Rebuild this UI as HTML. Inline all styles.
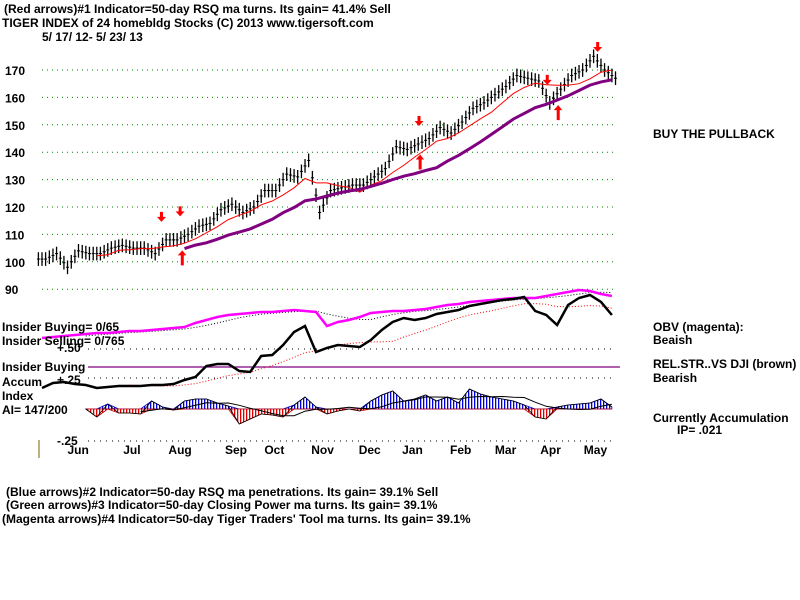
<!DOCTYPE html>
<html><head><meta charset="utf-8"><style>
body{margin:0;background:#fff;}
svg{display:block}
text{font-family:"Liberation Sans",sans-serif;font-weight:bold;font-size:12px;fill:#000}
</style></head><body>
<svg id="c" width="800" height="600" viewBox="0 0 800 600">
<defs><pattern id="hb" width="3" height="4" patternUnits="userSpaceOnUse"><rect width="3" height="4" fill="#fff"/><rect width="1.3" height="4" fill="#0000e0"/></pattern>
<pattern id="hr" width="3" height="4" patternUnits="userSpaceOnUse"><rect width="3" height="4" fill="#fff"/><rect width="1.3" height="4" fill="#e00000"/></pattern></defs>
<text x="4" y="13">(Red arrows)#1 Indicator=50-day RSQ ma turns. Its gain= 41.4% Sell</text>
<text x="2" y="27">TIGER INDEX of  24 homebldg Stocks  (C) 2013  www.tigersoft.com</text>
<text x="42" y="41">5/ 17/ 12- 5/ 23/ 13</text>
<g id="grid"></g><g id="ylab"></g><g id="lower"></g><g id="price"></g><g id="arrows"></g>
<text x="653" y="138">BUY THE PULLBACK</text>
<text x="2" y="331">Insider Buying= 0/65</text>
<text x="2" y="345">Insider Selling= 0/765</text>
<text x="57" y="352">+.50</text>
<text x="2" y="371">Insider Buying</text>
<text x="2" y="386">Accum</text>
<text x="57" y="384">+.25</text>
<text x="2" y="400">Index</text>
<text x="2" y="414">AI= 147/200</text>
<text x="57" y="445">-.25</text>
<line x1="39" y1="440" x2="39" y2="458" stroke="#806000"/>
<text x="653" y="331">OBV (magenta):</text>
<text x="653" y="344">Beaish</text>
<text x="653" y="368">REL.STR..VS DJI (brown)</text>
<text x="653" y="382">Bearish</text>
<text x="653" y="422">Currently Accumulation</text>
<text x="677" y="434">IP=  .021</text>
<text x="6" y="496">(Blue arrows)#2 Indicator=50-day RSQ ma penetrations. Its gain= 39.1% Sell</text>
<text x="6" y="509"> (Green arrows)#3 Indicator=50-day Closing Power ma turns. Its gain= 39.1%</text>
<text x="2" y="523">(Magenta arrows)#4 Indicator=50-day Tiger Traders' Tool ma turns. Its gain= 39.1%</text>
<g id="months"></g>
</svg>
<script>
const closes=[101,103,98,104,103,103,105,106,105,105,103,108,108,110,113,114,119,121,118,120,126,126,132,131,137,118,126,127,128,128,131,134,142,141,143,145,149,147,151,156,158,161,164,168,167,166,158,163,168,170,175,170,167];
const obvY=[338,337,336,335,334,333,333,332,331,331,330,329,328,327,323,320,317,315,314,313,312,312,311,310,311,312,326,322,320,317,313,312,311,311,310,309,307,305,304,302,301,300,299,298,298,298,296,294,292,290,291,294,296];
const relY=[388,383,382,384,385,388,387,386,386,386,385,385,384,380,377,366,364,364,371,372,356,355,345,332,326,352,348,345,346,347,340,330,322,318,320,318,314,312,310,306,304,302,300,299,297,311,315,325,305,298,295,302,315];
const aiVals=[0,-8,5,-4,-4,-5,8,2,-1,8,10,10,6,3,-15,-10,-5,-6,-8,4,12,2,-5,-2,0,-2,8,14,18,8,10,14,8,12,6,20,15,12,10,8,4,-8,-10,2,4,5,6,10,2];
const aiStart=4;
const priceTicks=[170,160,150,140,130,120,110,100,90];
const months=["Jun","Jul","Aug","Sep","Oct","Nov","Dec","Jan","Feb","Mar","Apr","May"];
const monthPos=[3.3,8.2,12.6,17.7,21.2,25.6,29.9,33.8,38.2,42.3,46.4,50.5];
const downArrows=[10.9,12.6,34.4,46.1,50.7];
const upArrows=[12.8,34.5,47.1];
const NS="http://www.w3.org/2000/svg";
const X=i=>42+i*10.96;
const Y=v=>70+(170-v)*2.74;
function el(t,a,p){const e=document.createElementNS(NS,t);for(const k in a)e.setAttribute(k,a[k]);document.getElementById(p).appendChild(e);return e;}
function ma(a,n){return a.map((v,i)=>{if(i<n-1)return null;let s=0;for(let j=i-n+1;j<=i;j++)s+=a[j];return s/n;});}
function path(arr,fx,fy){let d="";arr.forEach((v,i)=>{if(v==null)return;d+=(d?"L":"M")+fx(i).toFixed(1)+","+fy(v).toFixed(1);});return d;}
priceTicks.forEach(t=>{
 let g=el('line',{x1:42,x2:615,y1:Y(t),y2:Y(t),stroke:'#008000','stroke-dasharray':'1 4'},'grid');
 
 
 let tx=el('text',{x:5,y:Y(t)+5},'ylab');tx.textContent=t;
 
 
});
[[349,'#000'],[378,'#000'],[441,'#000']].forEach(([y,c])=>{
 let g=el('line',{x1:88,x2:615,y1:y,y2:y,stroke:c,'stroke-dasharray':'1 5'},'grid');
 
 
});
let ib=el('line',{x1:88,x2:620,y1:367,y2:367,stroke:'#800080','stroke-width':1.2},'grid');


closes.forEach((c,i)=>{
 const prev=i?closes[i-1]:c;
 for(let k=0;k<3;k++){
  const x=X(i)-3.6+k*3.6;const v=prev+(c-prev)*(k+1)/3;
  let b=el('line',{x1:x,x2:x,y1:Y(v+2.5),y2:Y(v-2.5),stroke:'#000','stroke-width':1.3},'price');
  
  
  let t=el('line',{x1:x-1.5,x2:x+1.5,y1:Y(v),y2:Y(v),stroke:'#000'},'price');
  
  
 }
});
const ma5=ma(closes,5),ma12=ma(closes,12);
let r=el('path',{d:path(ma5.map((v,i)=>i<5?null:v),X,Y),stroke:'#ff0000',fill:'none','stroke-width':1},'price');


let p=el('path',{d:path(ma12.map((v,i)=>i<13?null:v),X,Y),stroke:'#800080',fill:'none','stroke-width':3},'price');


const I=v=>v;
let om=el('path',{d:path(ma(obvY,5),X,I),stroke:'#000',fill:'none','stroke-dasharray':'1 2'},'lower');


let rm=el('path',{d:path(ma(relY,8),X,I),stroke:'#ff0000',fill:'none','stroke-dasharray':'1 2'},'lower');


let o=el('path',{d:path(obvY,X,I),stroke:'#ff00ff',fill:'none','stroke-width':2.5},'lower');


let rl=el('path',{d:path(relY,X,I),stroke:'#000',fill:'none','stroke-width':2.5},'lower');


const AX=i=>X(i+aiStart),AY=v=>409-v;
let pos="M"+AX(0)+",409",neg="M"+AX(0)+",409";
aiVals.forEach((v,i)=>{pos+="L"+AX(i)+","+AY(Math.max(v,0));neg+="L"+AX(i)+","+AY(Math.min(v,0));});
pos+="L"+AX(aiVals.length-1)+",409Z";neg+="L"+AX(aiVals.length-1)+",409Z";
let ap=el('path',{d:pos,fill:'url(#hb)',stroke:'#0000c0','stroke-width':0.8},'lower');


let an=el('path',{d:neg,fill:'url(#hr)',stroke:'#c00000','stroke-width':0.8},'lower');


let aline=el('path',{d:path(aiVals,AX,AY),stroke:'#000',fill:'none','stroke-width':0.8},'lower');


let am=el('path',{d:path(ma(aiVals,6),AX,AY),stroke:'#000',fill:'none','stroke-width':1},'lower');


months.forEach((m,k)=>{
 let t=el('text',{x:X(monthPos[k]),y:454,'text-anchor':'middle'},'months');t.textContent=m;
 
 
});
downArrows.forEach(i=>{
 const x=X(i),y=Y(closes[Math.round(i)])-20;
 let a=el('path',{d:`M${x-1.5},${y-8}h3v5h3l-4.5,5l-4.5,-5h3z`,fill:'#ff0000'},'arrows');
 
 
});
upArrows.forEach(i=>{
 const x=X(i),y=Y(closes[Math.round(i)])+22;
 let a=el('path',{d:`M${x},${y-6}l4,5h-2.5v10h-3v-10h-3z`,fill:'#ff0000'},'arrows');
 
 
});
</script>
</body></html>
